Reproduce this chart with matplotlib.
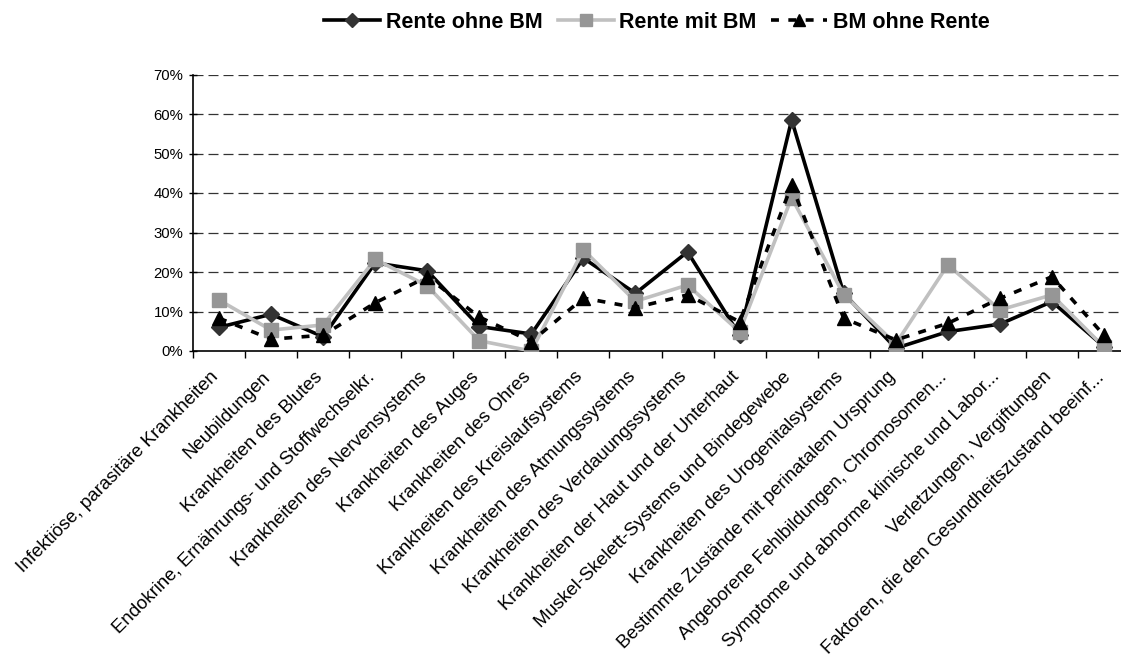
import matplotlib
matplotlib.use("Agg")
import matplotlib.pyplot as plt
import matplotlib.transforms as mtransforms
from matplotlib.ticker import FixedLocator, PercentFormatter

categories = [
    "Infektiöse, parasitäre Krankheiten",
    "Neubildungen",
    "Krankheiten des Blutes",
    "Endokrine, Ernährungs- und Stoffwechselkr.",
    "Krankheiten des Nervensystems",
    "Krankheiten des Auges",
    "Krankheiten des Ohres",
    "Krankheiten des Kreislaufsystems",
    "Krankheiten des Atmungssystems",
    "Krankheiten des Verdauungssystems",
    "Krankheiten der Haut und der Unterhaut",
    "Muskel-Skelett-Systems und Bindegewebe",
    "Krankheiten des Urogenitalsystems",
    "Bestimmte Zustände mit perinatalem Ursprung",
    "Angeborene Fehlbildungen, Chromosomen...",
    "Symptome und abnorme klinische und Labor...",
    "Verletzungen, Vergiftungen",
    "Faktoren, die den Gesundheitszustand beeinf...",
]

rente_ohne_bm = [6.0, 9.3, 3.6, 22.3, 20.3, 6.2, 4.3, 23.5, 14.6, 25.1, 4.0, 58.5, 14.6, 0.7, 4.9, 6.8, 12.5, 1.1]
rente_mit_bm = [12.9, 5.3, 6.6, 23.2, 16.5, 2.6, 0.0, 25.6, 12.6, 16.7, 4.9, 38.8, 14.3, 1.8, 21.8, 10.4, 14.2, 1.0]
bm_ohne_rente = [8.3, 3.0, 4.0, 12.2, 18.8, 8.6, 2.4, 13.4, 11.0, 14.2, 7.4, 42.0, 8.3, 2.8, 7.0, 13.3, 18.8, 4.0]

series_names = ["Rente ohne BM", "Rente mit BM", "BM ohne Rente"]
ytick_vals = [0, 10, 20, 30, 40, 50, 60, 70]

plt.rcParams['font.family'] = ['Liberation Sans', 'DejaVu Sans']

fig = plt.figure(figsize=(11.21, 6.56), dpi=100)
ax = fig.add_axes([193/1121, 1 - 351/656, 937/1121, (351 - 74.5)/656])

x = list(range(len(categories)))

ax.plot(x, rente_ohne_bm, color='black', lw=2.6, marker='D', markersize=8.5,
        markerfacecolor='#333333', markeredgecolor='#333333', label=series_names[0], zorder=3)
ax.plot(x, rente_mit_bm, color='#c0c0c0', lw=2.6, marker='s', markersize=10.5,
        markerfacecolor='#969696', markeredgecolor='#969696', label=series_names[1], zorder=4)
ax.plot(x, bm_ohne_rente, color='black', lw=2.6, ls=(0, (2.2, 2.6)), marker='^', markersize=10.5,
        markerfacecolor='black', markeredgecolor='black', label=series_names[2], zorder=5)

ax.set_xlim(-0.5, len(categories) - 0.5)
ax.set_ylim(0, 70)
ax.yaxis.set_major_locator(FixedLocator(ytick_vals))
ax.yaxis.set_major_formatter(PercentFormatter(decimals=0))
for v in ytick_vals[1:]:
    ax.axhline(v, color='#333333', lw=0.9, ls=(0, (8, 4)), zorder=1)

ax.set_xticks(x)
ax.set_xticklabels(categories, rotation=45, ha='right', va='top', rotation_mode='anchor', fontsize=13.4)
ax.tick_params(axis='x', which='major', length=0, pad=12.5)
offset = mtransforms.ScaledTranslation(-9/100, 0, fig.dpi_scale_trans)
for lbl in ax.get_xticklabels():
    lbl.set_transform(lbl.get_transform() + offset)
ax.set_xticks([i - 0.5 for i in range(len(categories) + 1)], minor=True)
ax.tick_params(axis='x', which='minor', length=5, width=1, direction='out')
ax.tick_params(axis='y', length=6, width=1, direction='inout', labelsize=10.7, pad=4)

for s in ['top', 'right']:
    ax.spines[s].set_visible(False)
for s in ['left', 'bottom']:
    ax.spines[s].set_linewidth(1.2)
    ax.spines[s].set_color('black')

leg = fig.legend(loc='center', bbox_to_anchor=(657/1121, 1 - 22/656), ncol=3, frameon=False,
                 prop={'weight': 'bold', 'size': 15.5}, handlelength=2.6, columnspacing=0.7,
                 handletextpad=0.25, markerscale=0.8)

fig.savefig("out.png", dpi=100)
